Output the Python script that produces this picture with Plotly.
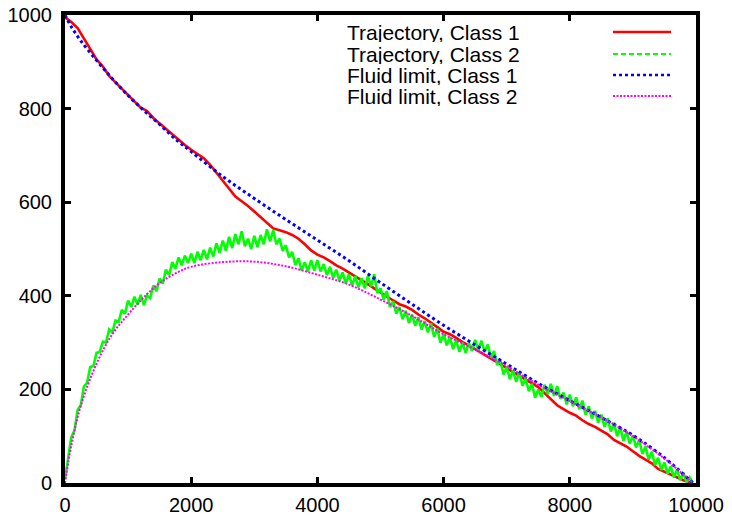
import plotly.graph_objects as go

# ---------------- data ----------------
# Fluid limits (smooth curves)
fluid_t = [0, 100, 250, 500, 750, 1000, 1250, 1500, 1750, 2000, 2500, 3000, 3500,
           4000, 4500, 5000, 5500, 6000, 6500, 7000, 7500, 8000, 8500, 9000, 9500, 9950]
fluid_class1 = [1000, 975, 945, 903, 864, 828, 796, 766, 735, 708, 655, 608, 563,
                519, 475, 428, 382, 337, 295, 254, 213, 176, 140, 102, 54, 0]
fluid_class2 = [0, 80, 165, 255, 318, 360, 397, 427, 448, 462, 472, 473, 463,
                445, 424, 392, 357, 318, 285, 250, 210, 175, 140, 100, 52, 0]

# Trajectory class 1: sampled every 100 time units (last point at 9950)
traj_class1 = [
    995, 985, 972, 950, 925, 905, 890, 870, 856, 842,
    828, 815, 802, 795, 780, 768, 756, 745, 732, 722,
    712, 703, 694, 680, 663, 645, 630, 612, 602, 592,
    580, 568, 556, 544, 540, 536, 530, 522, 510, 497,
    488, 482, 474, 465, 458, 450, 442, 434, 425, 416,
    407, 398, 390, 382, 377, 370, 360, 352, 343, 333,
    323, 318, 310, 301, 294, 286, 278, 270, 262, 254,
    245, 237, 230, 222, 214, 205, 192, 178, 166, 158,
    150, 144, 134, 126, 120, 112, 104, 92, 85, 78,
    68, 58, 50, 42, 30, 24, 18, 12, 6, 2,
    0,
]
traj_class1_t = [i * 100 for i in range(len(traj_class1) - 1)] + [9950]

# Trajectory class 2: sampled every 50 time units (noisy path)
traj_class2 = [
    8, 52, 98, 112, 156, 166, 206, 214, 248, 250, 278, 280, 302, 300, 328, 322, 347, 344, 370, 362,
    390, 376, 398, 381, 402, 380, 401, 395, 422, 410, 437, 426, 456, 444, 472, 458, 482, 465, 486, 470,
    490, 470, 494, 476, 498, 478, 503, 484, 512, 492, 518, 496, 526, 502, 532, 510, 538, 506, 522, 500,
    528, 504, 530, 510, 542, 516, 540, 510, 522, 496, 508, 482, 494, 466, 480, 454, 472, 452, 476, 454,
    476, 452, 468, 444, 462, 438, 456, 432, 450, 426, 446, 422, 442, 418, 438, 416, 442, 420, 446, 406,
    416, 392, 410, 376, 388, 362, 376, 350, 368, 342, 360, 336, 354, 328, 346, 322, 341, 312, 330, 300,
    319, 294, 312, 286, 305, 280, 300, 278, 300, 282, 306, 284, 304, 280, 296, 268, 282, 252, 262, 232,
    248, 222, 241, 216, 237, 208, 223, 196, 212, 182, 200, 184, 210, 190, 212, 186, 207, 180, 193, 168,
    189, 164, 183, 158, 176, 146, 164, 138, 154, 129, 146, 120, 138, 110, 129, 100, 119, 90, 110, 84,
    102, 76, 92, 62, 78, 50, 67, 38, 54, 28, 44, 20, 36, 12, 29, 6, 22, 2, 12, 0,
]
traj_class2_t = [i * 50 for i in range(len(traj_class2))]

series_names = ["Trajectory, Class 1", "Trajectory, Class 2",
                "Fluid limit, Class 1", "Fluid limit, Class 2"]
x_ticks = [0, 2000, 4000, 6000, 8000, 10000]
y_ticks = [0, 200, 400, 600, 800, 1000]

# ---------------- figure ----------------
FONT = "Liberation Sans, Arial, sans-serif"
fig = go.Figure()

fig.add_trace(go.Scatter(x=traj_class1_t, y=traj_class1, mode="lines",
                         line=dict(color="#ff0000", width=2.6), name=series_names[0]))
fig.add_trace(go.Scatter(x=traj_class2_t, y=traj_class2, mode="lines",
                         line=dict(color="#00ff00", width=2.6), name=series_names[1]))
fig.add_trace(go.Scatter(x=fluid_t, y=fluid_class1, mode="lines",
                         line=dict(color="#0000ff", width=3, dash="3px,3px", shape="spline"),
                         name=series_names[2]))
fig.add_trace(go.Scatter(x=fluid_t, y=fluid_class2, mode="lines",
                         line=dict(color="#ff00ff", width=2, dash="2px,1.5px", shape="spline"),
                         name=series_names[3]))

# Manual legend (text on the left, sample on the right, gnuplot style)
L, R, T, B = 65, 36, 15, 33
W, H = 732, 516
pw, ph = W - L - R, H - T - B

def px(xp):
    return (xp - L) / pw

def py(yp):
    return (H - B - yp) / ph

legend_rows = [32, 54, 75, 96]
legend_styles = [
    dict(color="#ff0000", width=2.6),
    dict(color="#00ff00", width=2.2, dash="5px,3px"),
    dict(color="#0000ff", width=2.6, dash="3px,3px"),
    dict(color="#ff00ff", width=2, dash="2px,1.5px"),
]
for name, yrow, style in zip(series_names, legend_rows, legend_styles):
    fig.add_annotation(x=px(345), y=py(yrow), xref="paper", yref="paper",
                       text=name, showarrow=False, xanchor="left", yanchor="middle",
                       height=20, valign="middle",
                       font=dict(family=FONT, size=21, color="#000000"))
    fig.add_shape(type="line", xref="paper", yref="paper",
                  x0=px(613), x1=px(671), y0=py(yrow), y1=py(yrow), line=style)

axis_common = dict(
    showline=True, linecolor="#000000", linewidth=4, mirror="allticks",
    ticks="inside", ticklen=6, tickwidth=3, tickcolor="#000000",
    showgrid=False, zeroline=False, automargin=False,
    tickfont=dict(family=FONT, size=20, color="#000000"),
)

fig.update_layout(
    width=W, height=H,
    margin=dict(l=L, r=R, t=T, b=B, pad=0, autoexpand=False),
    paper_bgcolor="#ffffff", plot_bgcolor="#ffffff",
    showlegend=False,
    hovermode=False,
    xaxis=dict(range=[0, 10000], tickvals=x_ticks, ticktext=[str(v) for v in x_ticks],
               ticklabelstandoff=1, **axis_common),
    yaxis=dict(range=[0, 1000], tickvals=y_ticks, ticktext=[str(v) for v in y_ticks],
               ticklabelstandoff=5, **axis_common),
)

fig.write_html("out.html", config={"displayModeBar": False, "staticPlot": True},
               post_script="document.body.style.margin='0px';")
